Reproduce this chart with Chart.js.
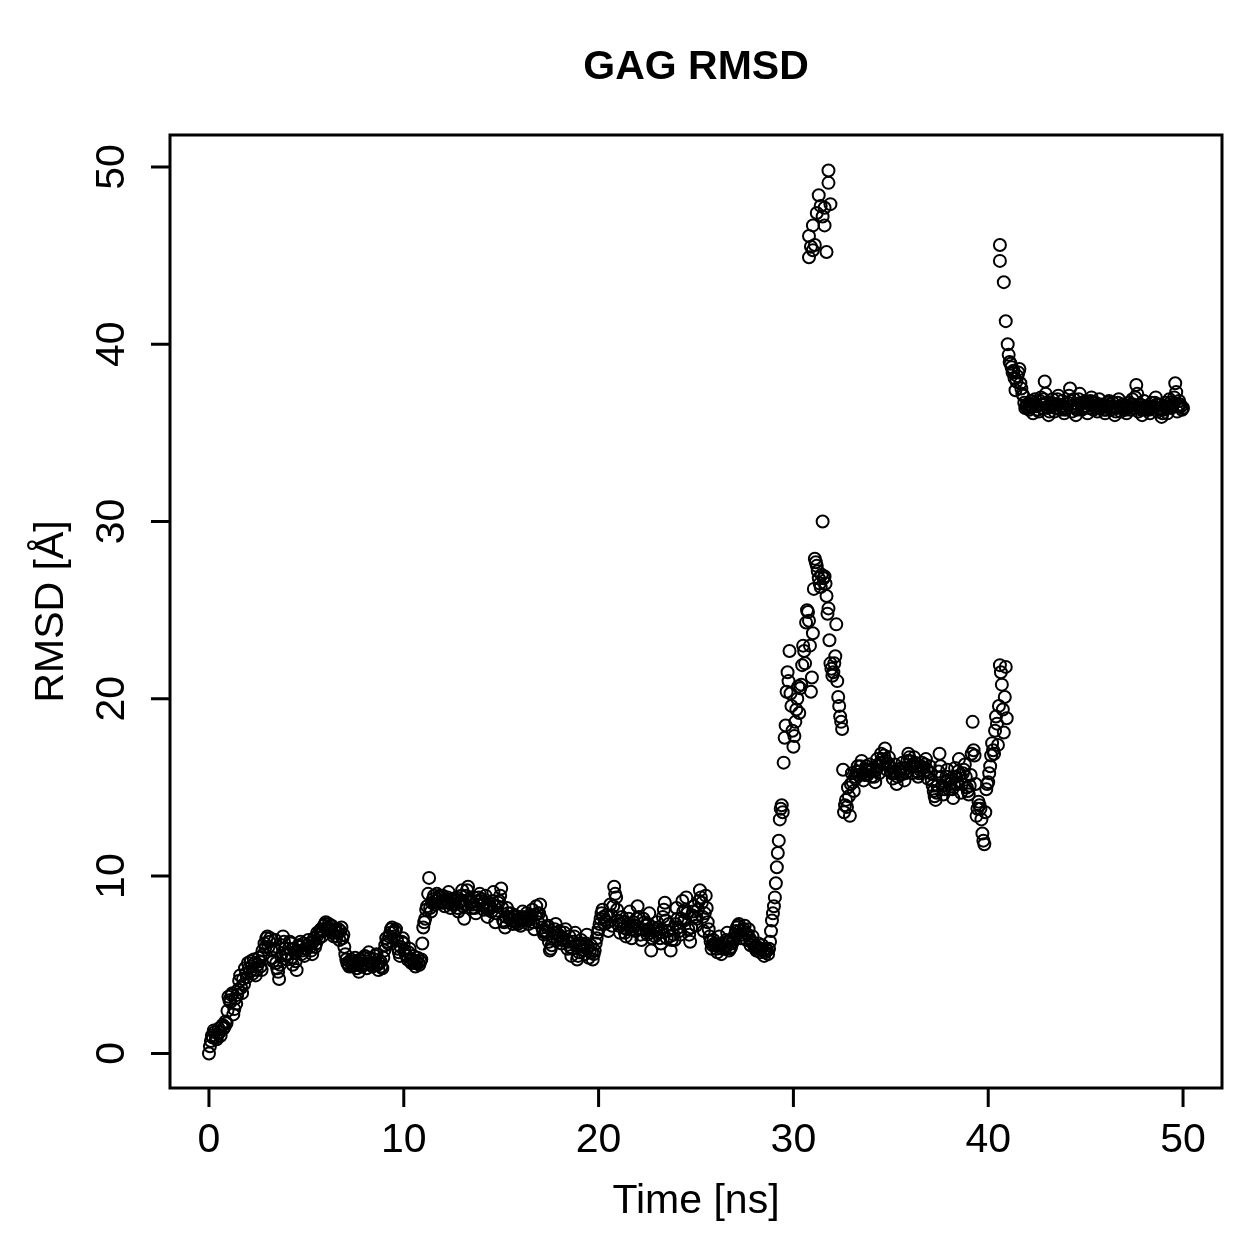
<!DOCTYPE html>
<html>
<head>
<meta charset="utf-8">
<title>GAG RMSD</title>
<script src="https://cdn.jsdelivr.net/npm/chart.js@4.4.1/dist/chart.umd.min.js"></script>
<style>
  html, body { margin: 0; padding: 0; background: #fff; }
  #wrap { width: 1259px; height: 1259px; }
</style>
</head>
<body>
<div id="wrap"><canvas id="rmsdChart" width="1259" height="1259"></canvas></div>
<script>
// frames every 0.05 ns; stored as even frames (t = 0.0, 0.1, ...) and odd frames (t = 0.05, 0.15, ...)
const frameStep = 0.1;
const oddOffset = 0.05;

// lower branch, 0.0 - 40.9 ns, even frames
const rmsdLow = [
  0.0, 0.7, 0.9, 1.2, 0.8, 1.4, 1.0, 1.6, 1.5, 1.7,
  3.2, 2.9, 3.4, 2.5, 2.8, 3.6, 4.4, 3.4, 3.9, 4.5,
  5.1, 4.6, 4.9, 5.3, 4.4, 5.0, 5.2, 4.7, 5.6, 6.0,
  6.6, 6.3, 5.8, 5.2, 6.4, 4.8, 4.2, 5.5, 6.6, 5.9,
  5.3, 5.9, 6.2, 5.0, 5.7, 4.7, 6.1, 6.3, 5.8, 5.5,
  5.9, 6.4, 6.0, 5.6, 6.5, 6.2, 6.7, 6.9, 6.6, 7.2,
  7.4, 7.1, 6.9, 7.2, 6.6, 7.0, 6.8, 6.4, 7.1, 6.7,
  5.6, 5.1, 4.9, 5.3, 5.0, 5.4, 4.8, 4.6, 5.2, 5.0,
  5.5, 4.8, 5.7, 5.1, 4.9, 5.3, 5.6, 4.7, 5.2, 4.8,
  5.8, 6.5, 6.2, 6.8, 7.1, 6.6, 7.0, 5.9, 5.5, 6.3,
  6.2, 5.6, 5.3, 5.9, 5.1, 5.5, 4.9, 5.4, 5.0, 5.3,
  7.1, 7.6, 8.3, 9.9, 8.0, 8.7, 8.4, 9.0, 8.8, 8.5,
  8.9, 8.3, 8.6, 9.1, 8.2, 8.7, 8.4, 8.8, 8.0, 8.6,
  9.2, 7.6, 8.9, 9.4, 8.5, 8.2, 8.8, 7.9, 8.4, 9.0,
  8.7, 8.1, 8.9, 7.7, 8.4, 8.0, 9.1, 7.4, 8.3, 8.6,
  9.3, 7.5, 7.1, 8.2, 7.7, 7.9, 7.3, 7.8, 7.4, 7.6,
  7.2, 8.0, 7.5, 7.9, 7.3, 7.7, 8.1, 7.0, 8.3, 7.4,
  8.4, 7.1, 6.7, 6.9, 7.2, 5.8, 6.1, 6.8, 7.3, 6.4,
  6.9, 6.2, 6.5, 7.0, 5.9, 6.6, 5.5, 6.3, 6.8, 5.3,
  5.7, 6.4, 6.0, 5.6, 6.7, 5.4, 6.1, 5.3, 5.8, 6.5,
  7.0, 7.6, 8.1, 7.3, 7.8, 6.9, 8.4, 7.2, 9.4, 8.8,
  7.5, 6.8, 7.7, 7.1, 6.6, 7.3, 8.0, 6.5, 7.4, 6.9,
  8.3, 7.0, 6.4, 7.6, 7.2, 6.7, 7.9, 5.8, 7.1, 6.6,
  7.4, 6.8, 6.2, 7.7, 8.5, 6.5, 7.3, 5.8, 7.0, 6.4,
  8.2, 7.1, 6.7, 8.6, 7.5, 8.8, 7.0, 6.3, 7.8, 8.3,
  7.2, 8.1, 9.2, 8.5, 6.9, 8.9, 7.4, 6.6, 5.9, 6.4,
  6.1, 5.7, 6.6, 5.6, 6.2, 5.9, 6.8, 5.8, 6.0, 6.3,
  6.7, 7.1, 7.3, 6.5, 6.9, 7.2, 6.4, 7.0, 6.1, 6.6,
  6.0, 5.8, 6.2, 5.7, 6.1, 5.5, 5.9, 5.6, 6.3, 7.5,
  8.3, 9.6, 11.3, 13.2, 14.0, 16.4, 18.5, 21.5, 22.7, 19.6,
  17.3, 18.7, 20.0, 19.2, 20.8, 23.0, 22.0, 25.0, 24.4, 20.4,
  23.7, 27.9, 27.5, 26.8, 26.3, 30.0, 26.9, 25.8, 25.1, 22.0,
  21.3, 22.0, 24.2, 20.1, 19.0, 18.3, 13.6, 14.3, 15.0, 13.4,
  15.8, 14.8, 15.5, 16.2, 15.9, 16.5, 15.4, 16.0, 15.7, 16.3,
  15.6, 16.1, 15.3, 16.6, 15.8, 16.9, 16.4, 17.2, 16.0, 16.7,
  15.9, 15.5, 16.3, 15.2, 16.0, 15.7, 16.4, 15.4, 16.1, 16.9,
  16.5, 15.8, 16.7, 16.2, 15.6, 16.0, 16.4, 15.9, 16.6, 15.5,
  16.2, 15.4, 14.8, 14.3, 15.1, 16.9, 15.6, 14.6, 15.3, 16.0,
  14.9, 15.5, 14.4, 16.1, 15.2, 16.6, 14.7, 15.8, 16.3, 15.0,
  14.6, 15.7, 18.7, 16.8, 13.4, 14.2, 13.8, 12.4, 11.8, 14.9,
  15.3, 16.2, 17.5, 16.9, 19.0, 17.4, 21.9, 20.8, 18.1, 21.8
];

// lower branch, 0.05 - 40.95 ns, odd frames
const rmsdLowOdd = [
  0.4, 1.0, 1.3, 0.9, 1.1, 1.2, 1.5, 1.4, 1.8, 2.4,
  3.0, 3.3, 2.2, 3.1, 3.3, 4.1, 3.7, 4.2, 4.8, 4.3,
  4.8, 5.2, 4.5, 5.1, 4.7, 5.4, 4.9, 5.8, 6.2, 6.5,
  6.0, 6.5, 5.4, 5.9, 5.1, 4.6, 5.0, 6.1, 6.3, 5.6,
  5.6, 6.3, 5.4, 5.9, 5.2, 5.8, 6.0, 5.6, 6.2, 5.9,
  6.1, 6.2, 5.8, 6.3, 6.0, 6.8, 6.5, 7.0, 6.9, 7.3,
  7.0, 7.3, 7.0, 6.8, 6.9, 6.6, 7.0, 6.9, 6.5, 6.0,
  5.3, 5.0, 5.2, 4.9, 5.2, 5.1, 5.0, 5.3, 4.9, 5.4,
  5.1, 5.2, 5.4, 5.0, 5.1, 5.5, 5.0, 5.1, 4.9, 5.4,
  6.1, 6.3, 6.6, 7.0, 6.8, 6.9, 6.4, 5.7, 6.0, 6.5,
  5.8, 5.5, 5.7, 5.2, 5.3, 5.1, 5.2, 5.1, 5.2, 6.2,
  7.4, 8.1, 9.0, 8.2, 8.5, 8.9, 8.6, 8.7, 8.9, 8.6,
  8.5, 8.7, 8.8, 8.5, 8.4, 8.6, 8.7, 8.2, 8.5, 8.9,
  8.3, 8.4, 9.2, 8.7, 8.6, 8.4, 8.2, 8.6, 8.8, 8.6,
  8.4, 8.5, 8.2, 8.1, 8.2, 8.6, 8.3, 7.9, 8.5, 8.9,
  8.2, 7.4, 7.7, 7.9, 7.6, 7.5, 7.7, 7.5, 7.3, 7.5,
  7.7, 7.6, 7.7, 7.5, 7.6, 7.8, 7.4, 7.8, 7.9, 7.9,
  7.6, 6.9, 6.8, 7.1, 6.3, 5.9, 6.6, 7.0, 6.8, 6.7,
  6.6, 6.4, 6.8, 6.4, 6.3, 6.0, 5.9, 6.6, 6.1, 5.5,
  6.1, 6.2, 5.8, 6.2, 6.0, 5.8, 5.7, 5.6, 6.2, 6.8,
  7.3, 7.9, 7.7, 7.5, 7.4, 7.7, 7.8, 8.3, 9.0, 8.1,
  7.2, 7.3, 7.4, 6.8, 7.0, 7.6, 7.2, 7.0, 7.2, 7.6,
  7.7, 6.7, 7.0, 7.4, 6.9, 7.3, 6.8, 6.5, 6.9, 7.0,
  7.1, 6.5, 7.0, 8.1, 7.5, 6.9, 6.6, 6.4, 6.7, 7.3,
  7.6, 6.9, 7.6, 8.0, 8.1, 7.9, 6.7, 7.1, 8.0, 7.7,
  7.6, 8.6, 8.8, 7.7, 7.9, 8.2, 7.0, 6.3, 6.1, 6.2,
  5.9, 6.1, 6.1, 5.9, 6.0, 6.4, 6.3, 5.9, 6.2, 6.5,
  6.9, 7.2, 6.9, 6.7, 7.0, 6.8, 6.7, 6.5, 6.3, 6.2,
  5.9, 6.0, 5.9, 5.9, 5.8, 5.7, 5.8, 5.9, 6.9, 7.9,
  8.8, 10.5, 12.0, 13.8, 13.6, 17.8, 20.4, 21.0, 20.3, 18.2,
  17.9, 19.4, 20.7, 20.6, 21.9, 22.7, 24.3, 24.9, 23.0, 21.2,
  26.2, 27.7, 27.2, 26.5, 27.0, 26.8, 26.5, 24.8, 23.3, 21.7,
  21.5, 22.4, 21.0, 19.6, 18.7, 16.0, 14.0, 13.9, 14.5, 15.2,
  15.3, 15.6, 15.9, 15.7, 16.2, 15.8, 15.7, 16.2, 16.0, 15.9,
  16.0, 15.6, 16.0, 16.2, 16.4, 16.6, 16.8, 16.5, 16.3, 16.2,
  15.8, 15.9, 15.8, 15.6, 15.9, 16.1, 15.9, 15.8, 16.5, 16.7,
  16.2, 16.3, 16.4, 15.9, 15.8, 16.2, 16.1, 16.3, 16.0, 15.9,
  15.8, 15.1, 14.5, 14.7, 15.9, 16.2, 15.1, 14.9, 15.6, 15.4,
  15.2, 14.9, 15.2, 15.6, 15.9, 15.7, 15.2, 16.0, 15.6, 14.8,
  15.1, 16.9, 17.1, 15.2, 13.8, 14.0, 13.2, 12.0, 13.6, 15.2,
  15.8, 16.8, 17.1, 18.2, 18.6, 19.6, 21.5, 19.4, 20.1, 18.9
];

// upper branch, 41.0 - 50.0 ns, even frames
const highStart = 41.0;
const rmsdHigh = [
  40.0, 39.0, 38.7, 38.5, 37.4, 38.2, 38.6, 37.5, 37.1, 36.4,
  36.6, 36.3, 36.8, 36.1, 36.9, 36.5, 36.2, 37.0, 36.4, 37.9,
  36.7, 36.0, 36.5, 36.9, 36.2, 36.6, 37.1, 36.3, 36.8, 36.1,
  36.4, 36.7, 37.5, 36.2, 36.9, 36.0, 36.6, 37.2, 36.3, 36.5,
  36.8, 36.1, 36.6, 37.0, 36.3, 36.7, 36.2, 36.9, 36.4, 36.6,
  36.1, 36.5, 36.8, 36.3, 36.7, 36.0, 36.4, 36.9, 36.2, 36.6,
  36.5, 36.1, 36.7, 36.3, 36.9, 36.4, 37.7, 36.2, 36.6, 36.0,
  36.8, 36.3, 36.5, 36.1, 36.7, 36.4, 37.0, 36.2, 36.6, 35.9,
  36.3, 36.7, 36.1, 36.9, 36.4, 36.6, 37.8, 36.2, 36.8, 36.5,
  36.4
];

// upper branch, 41.05 - 49.95 ns, odd frames
const rmsdHighOdd = [
  39.4, 38.9, 38.4, 38.1, 37.9, 38.4, 37.8, 37.2, 36.7, 36.5,
  36.4, 36.6, 36.5, 36.7, 36.6, 36.3, 36.8, 36.6, 36.9, 37.2,
  36.4, 36.2, 36.7, 36.6, 36.4, 36.9, 36.6, 36.5, 36.4, 36.3,
  36.6, 37.1, 36.8, 36.5, 36.4, 36.3, 36.9, 36.7, 36.4, 36.7,
  36.5, 36.4, 36.8, 36.7, 36.5, 36.4, 36.6, 36.6, 36.5, 36.3,
  36.3, 36.7, 36.6, 36.5, 36.4, 36.2, 36.7, 36.5, 36.4, 36.4,
  36.3, 36.4, 36.5, 36.6, 36.6, 37.0, 37.2, 36.4, 36.3, 36.4,
  36.5, 36.4, 36.3, 36.4, 36.5, 36.7, 36.6, 36.4, 36.3, 36.1,
  36.5, 36.4, 36.5, 36.7, 36.5, 37.0, 37.3, 36.5, 36.6, 36.3
];

// frames that jumped to the upper branch early
const jumpTimes = [30.8, 30.9, 30.8, 31.0, 31.0, 31.1, 31.2, 31.3, 31.4, 31.5, 31.6, 31.6, 31.7, 31.8, 31.8, 31.9, 40.6, 40.6, 40.8, 40.9];
const jumpRmsd  = [44.9, 45.5, 46.1, 46.7, 45.3, 45.6, 47.4, 48.4, 47.8, 47.2, 47.7, 46.7, 45.2, 49.8, 49.1, 47.9, 45.6, 44.7, 43.5, 41.3];

const xTicks = [0, 10, 20, 30, 40, 50];
const yTicks = [0, 10, 20, 30, 40, 50];

const points = [];
const addSeries = (vals, start) =>
  vals.forEach((v, i) => points.push({ x: +(start + i * frameStep).toFixed(2), y: v }));
addSeries(rmsdLow, 0);
addSeries(rmsdLowOdd, oddOffset);
addSeries(rmsdHigh, highStart);
addSeries(rmsdHighOdd, highStart + oddOffset);
jumpTimes.forEach((t, i) => points.push({ x: t, y: jumpRmsd[i] }));

const FONT = '"Liberation Sans", Arial, Helvetica, sans-serif';

// R base-graphics style frame, ticks and labels
const rAxes = {
  id: 'rAxes',
  afterDraw(chart) {
    const { ctx, chartArea: a, scales: { x, y } } = chart;
    ctx.save();
    ctx.strokeStyle = '#000';
    ctx.lineWidth = 3;
    ctx.strokeRect(a.left, a.top, a.right - a.left, a.bottom - a.top);

    ctx.beginPath();
    xTicks.forEach(v => {
      const px = x.getPixelForValue(v);
      ctx.moveTo(px, a.bottom);
      ctx.lineTo(px, a.bottom + 19);
    });
    yTicks.forEach(v => {
      const py = y.getPixelForValue(v);
      ctx.moveTo(a.left, py);
      ctx.lineTo(a.left - 19, py);
    });
    ctx.stroke();

    ctx.fillStyle = '#000';
    ctx.font = '41px ' + FONT;
    ctx.textAlign = 'center';
    ctx.textBaseline = 'middle';
    xTicks.forEach(v => ctx.fillText(String(v), x.getPixelForValue(v), a.bottom + 53));
    yTicks.forEach(v => {
      ctx.save();
      ctx.translate(a.left - 57, y.getPixelForValue(v));
      ctx.rotate(-Math.PI / 2);
      ctx.fillText(String(v), 0, 0);
      ctx.restore();
    });

    ctx.fillText('Time [ns]', (a.left + a.right) / 2, 1202);
    ctx.save();
    ctx.translate(52, (a.top + a.bottom) / 2);
    ctx.rotate(-Math.PI / 2);
    ctx.fillText('RMSD [Å]', 0, 0);
    ctx.restore();

    ctx.font = 'bold 41px ' + FONT;
    ctx.fillText('GAG RMSD', (a.left + a.right) / 2, 68);
    ctx.restore();
  }
};

new Chart(document.getElementById('rmsdChart'), {
  type: 'scatter',
  data: {
    datasets: [{
      label: 'GAG RMSD',
      data: points,
      pointStyle: 'circle',
      pointRadius: 6,
      pointBorderWidth: 2,
      borderColor: '#000',
      backgroundColor: 'rgba(0,0,0,0)'
    }]
  },
  options: {
    responsive: false,
    animation: false,
    layout: { padding: { left: 170, right: 37, top: 135, bottom: 171 } },
    plugins: { legend: { display: false }, tooltip: { enabled: false } },
    scales: {
      x: { type: 'linear', min: -2, max: 52, display: false },
      y: { type: 'linear', min: -1.95, max: 51.8, display: false }
    }
  },
  plugins: [rAxes]
});
</script>
</body>
</html>
